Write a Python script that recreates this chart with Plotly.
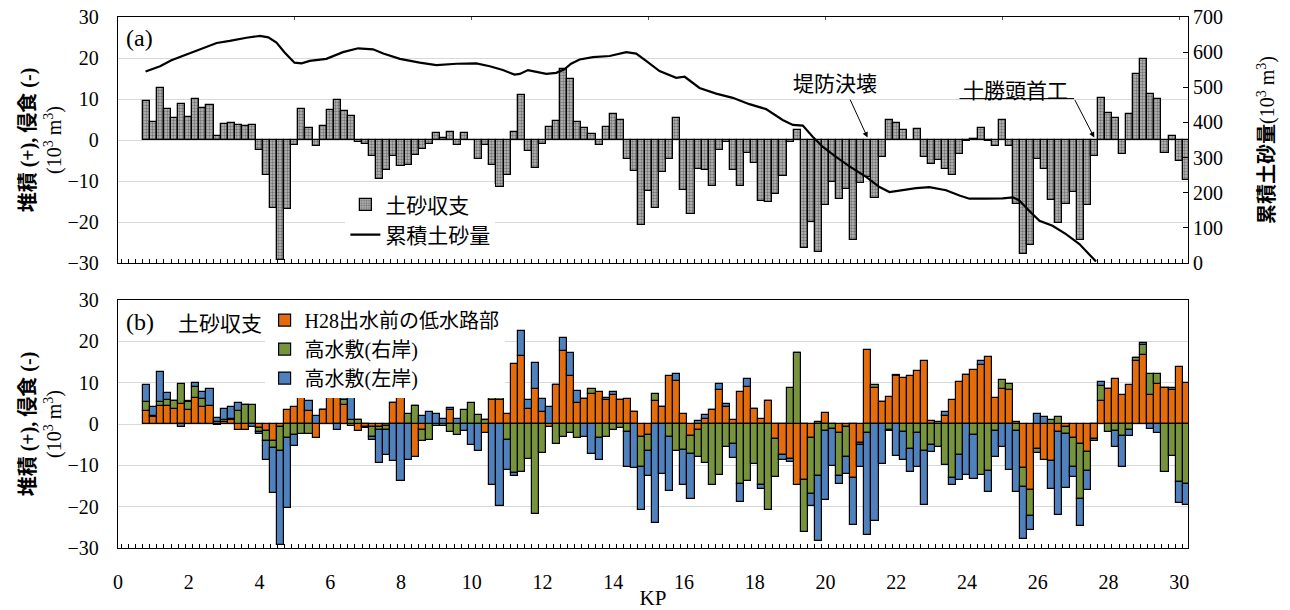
import plotly.graph_objects as go

# ---------------- data ----------------
kp = [round(0.8 + 0.2 * i, 1) for i in range(148)]

balance = [9.5, 4.4, 12.8, 7.6, 5.3, 8.9, 5.6, 10.0, 7.8, 8.5,
           1.1, 3.8, 4.1, 3.6, 3.3, 3.7, -2.5, -8.5, -16.7, -29.3,
           -16.9, -1.2, 7.6, 3.0, -1.5, 3.3, 7.3, 9.7, 7.1, 5.9,
           -0.6, -1.0, -3.9, -9.4, -7.4, -3.9, -6.3, -6.1, -3.7, -2.1,
           -1.0, 1.8, 0.6, 1.9, -1.2, 1.7, 0.1, -4.6, -1.1, -6.2,
           -11.4, -8.6, 2.0, 10.9, -2.8, -6.8, -0.9, 3.2, 4.6, 17.4,
           15.0, 4.4, 3.0, 1.4, -1.1, 3.2, 6.3, 5.0, -4.6, -7.6,
           -20.7, -12.5, -16.6, -7.8, -4.6, 5.4, -12.3, -18.0, -7.0, -7.3,
           -11.1, -2.4, -0.5, -7.2, -11.1, -3.1, -5.5, -14.8, -15.1, -13.1,
           -8.7, -0.5, 2.5, -26.3, -19.9, -27.4, -15.9, -10.2, -14.3, -11.9,
           -24.4, -10.4, -8.9, -14.1, -4.1, 4.9, 4.2, 2.4, 0.0, 2.6,
           -4.2, -5.9, -4.9, -7.0, -8.6, -3.5, -0.3, 0.2, 3.0, -0.2,
           -1.5, 5.0, -1.5, -15.7, -27.9, -25.7, -4.6, -7.0, -14.6, -20.2,
           -15.7, -12.8, -24.4, -15.8, -4.0, 10.3, 6.7, 5.4, -3.3, 6.4,
           16.0, 19.7, 11.1, 10.0, -3.1, 1.0, -5.2, -9.8]

cum_kp = [0.78, 1.19, 1.51, 1.89, 2.32, 2.79, 3.16, 3.63, 4.01, 4.25,
          4.48, 4.71, 4.99, 5.19, 5.42, 5.89, 6.36, 6.79, 7.21, 7.5,
          7.97, 8.53, 9.0, 9.57, 10.13, 10.51, 10.88, 11.21, 11.36, 11.59,
          11.83, 12.11, 12.39, 12.62, 12.81, 13.05, 13.43, 13.9, 14.37, 14.65,
          14.93, 15.31, 15.78, 16.02, 16.44, 16.91, 17.38, 17.85, 18.32, 18.79,
          19.08, 19.36, 19.64, 19.92, 20.3, 20.68, 21.15, 21.53, 21.81, 22.18,
          22.56, 22.94, 23.41, 23.79, 24.07, 24.54, 25.01, 25.3, 25.48, 25.76,
          26.05, 26.42, 26.8, 27.18, 27.46, 27.65]
cum_val = [545, 560, 577, 591, 608, 626, 632, 641, 646, 642,
           627, 599, 570, 568, 575, 581, 600, 611, 608, 596,
           581, 570, 563, 567, 568, 560, 549, 536, 538, 549,
           544, 538, 541, 551, 567, 579, 586, 589, 600, 596,
           575, 546, 527, 530, 498, 482, 470, 452, 438, 407,
           393, 391, 359, 331, 302, 275, 245, 216, 202, 207,
           213, 216, 207, 192, 183, 183, 184, 187, 178, 149,
           120, 106, 82, 54, 25, 4]

low_channel = [3.1, 1.7, 4.4, 4.4, 3.6, 4.8, 3.4, 6.2, 4.0, 4.4,
               -0.3, 0.4, 1.0, -1.4, -1.5, 0.0, -1.0, -1.8, -4.0, -0.8,
               3.5, 4.0, 10.1, 3.1, -3.5, 3.4, 7.1, 11.1, 4.7, -0.6,
               -1.6, -0.8, -0.8, -0.8, -0.5, 5.0, 6.7, 0.0, -8.1, -1.4,
               0.0, 0.0, 0.0, 3.5, 0.0, 0.0, 0.0, 0.0, -2.2, 5.8,
               5.8, 2.4, 14.4, 16.5, 3.6, 8.5, 2.8, -0.8, 9.4, 17.6,
               11.5, 5.2, 6.1, 7.3, 7.7, 5.9, 6.9, 5.9, 6.0, 2.9,
               -3.2, -2.6, 5.5, 4.2, 11.6, 10.5, 2.5, -3.0, -1.4, 1.3,
               3.3, 8.3, 4.0, 1.0, 7.7, 9.0, 3.6, 1.1, 5.5, -3.6,
               -7.4, -8.5, -14.7, -13.6, -3.4, 0.6, 2.7, 0.0, -2.3, -0.8,
               -13.1, -4.6, 17.8, 8.7, 5.3, 6.5, 11.7, 11.1, 11.7, 12.9,
               15.2, 0.8, 0.0, 1.9, 5.9, 10.2, 11.8, 13.1, 14.2, 16.2,
               6.3, 8.4, 8.2, 0.6, -10.6, -16.0, -6.0, -8.8, -9.0, -2.0,
               -0.7, -3.4, -4.8, -6.8, -3.6, 5.5, 8.5, 11.0, 6.9, 9.5,
               15.2, 16.6, 7.1, 9.7, 8.6, 8.3, 13.7, 9.8]

floodplain_right = [2.2, 0.3, 1.0, 1.5, 1.9, 4.8, 1.9, 2.7, 2.1, 0.0,
                    0.6, 0.5, 0.3, 3.1, 4.7, 4.5, -1.0, -2.4, -1.9, -5.8,
                    -3.4, -2.6, -2.4, -2.4, 0.0, 0.0, 0.2, 0.0, 1.0, 1.0,
                    1.0, -0.2, -2.4, -0.6, -1.0, 0.0, 0.6, 2.5, 4.3, -2.6,
                    -3.8, -0.4, -0.6, -2.0, -2.6, 3.3, 5.2, 2.1, 1.0, 2.7,
                    2.4, -3.8, -11.9, -11.7, -8.5, -21.7, -6.9, 0.0, -4.8, -3.2,
                    -2.2, -3.4, 0.0, 1.1, -3.3, -3.1, -1.5, -0.9, -2.0, 0.0,
                    -7.3, -4.0, 1.8, 0.0, -3.2, -6.6, -6.2, -4.2, -6.5, -9.4,
                    -14.7, -12.3, -5.6, -4.8, -14.5, -13.9, -9.6, -14.8, -20.7, -9.3,
                    0.0, 8.7, 17.2, -12.6, -13.5, -12.5, -1.6, -1.1, -10.3, -7.3,
                    0.0, -0.6, -2.2, 0.7, 0.0, -1.4, 0.2, -2.0, -6.0, -2.2,
                    -6.5, -5.0, -5.6, -10.0, -13.1, -7.4, 0.0, -2.6, -12.3, -11.3,
                    -1.8, 2.3, 1.5, -1.6, -4.6, -6.3, -1.0, 0.0, 1.0, 1.6,
                    -1.7, -7.0, -13.3, -4.5, 0.0, 3.6, -1.9, -1.6, -2.8, -1.4,
                    0.8, 2.4, 5.1, 2.4, -11.7, -7.7, -14.1, -14.4]

floodplain_left = [4.2, 2.2, 7.3, 1.5, 0.0, -0.7, 0.3, 1.0, 1.6, 4.1,
                   0.8, 2.7, 2.7, 1.9, 0.0, -0.8, -0.5, -4.4, -10.9, -22.7,
                   -16.9, -2.8, 0.0, 2.4, 2.0, 0.0, 0.0, -1.4, 1.4, 5.5,
                   0.0, 0.0, -0.7, -8.0, -6.1, -8.9, -13.7, -8.6, 0.0, 1.9,
                   2.9, 2.3, 1.3, 0.4, 1.3, -1.6, -5.2, -6.6, 0.0, -14.8,
                   -19.9, -7.4, -0.8, 5.9, 2.1, 6.3, 3.2, 4.1, 0.0, 3.1,
                   5.6, 2.7, -3.2, -7.3, -5.5, 0.4, 0.9, 0.0, -8.5, -10.6,
                   -10.2, -5.9, -24.0, -12.0, -12.9, 1.5, -8.6, -10.9, 0.8, 0.8,
                   0.0, 1.4, 0.9, -3.5, -4.4, 1.9, 0.0, -1.0, 0.0, 0.0,
                   -1.4, -0.8, 0.0, 0.0, -3.0, -15.7, -16.9, -9.1, -1.8, -4.0,
                   -11.3, -5.2, -24.6, -23.5, -9.6, -0.4, -7.7, -6.8, -5.6, -8.2,
                   -13.1, -1.8, 0.5, 1.0, -1.6, -6.2, -12.3, -10.6, 1.0, -5.2,
                   -6.2, -5.6, -11.1, -14.8, -12.7, -3.4, 2.4, 1.6, -6.7, -19.9,
                   -13.2, -2.5, -6.5, -4.6, -0.5, 1.0, 0.0, -4.0, -7.6, -1.6,
                   0.0, 0.6, -1.2, -2.2, 0.0, 0.4, -5.0, -5.2]

# ---------------- styling ----------------
SERIF = "Liberation Serif, Noto Sans CJK JP"
JP = "Noto Sans CJK JP"
ORANGE = "#E46C0A"
GREEN = "#77933C"
BLUE = "#4F81BD"

fig = go.Figure()

fig.add_trace(go.Bar(
    x=kp, y=balance, width=0.2, name="土砂収支", xaxis="x", yaxis="y",
    legend="legend", legendgroup="a1",
    marker=dict(color="#a8a8a8",
                pattern=dict(shape=".", fgcolor="#2e2e2e", bgcolor="#bdbdbd",
                             size=3, solidity=0.5),
                line=dict(color="black", width=1.3)),
))
fig.add_trace(go.Scatter(
    x=cum_kp, y=cum_val, mode="lines", name="累積土砂量", xaxis="x", yaxis="y2",
    legend="legend", legendgroup="a2",
    line=dict(color="black", width=2.2),
))
# empty helper trace so the top tick axis of panel (a) is drawn
fig.add_trace(go.Scatter(x=[], y=[], xaxis="x3", yaxis="y", showlegend=False,
                         hoverinfo="skip"))

for name, vals, col in [("H28出水前の低水路部", low_channel, ORANGE),
                        ("高水敷(右岸)", floodplain_right, GREEN),
                        ("高水敷(左岸)", floodplain_left, BLUE)]:
    fig.add_trace(go.Bar(
        x=kp, y=vals, width=0.2, name=name, xaxis="x2", yaxis="y3",
        legend="legend2", marker=dict(color=col, line=dict(color="black", width=1.2)),
    ))

top_dom = [0.5367, 1.0]
bot_dom = [0.0, 0.467]

xcommon = dict(range=[0, 30.25], dtick=2, tick0=0, showgrid=False, zeroline=False,
               showline=True, linecolor="black", linewidth=1.3, mirror=True,
               ticks="", automargin=False,
               minor=dict(ticks="inside", tick0=0.1, dtick=0.2, ticklen=4,
                          tickcolor="black", tickwidth=1, showgrid=False))
ycommon = dict(range=[-30, 30], dtick=10, showgrid=True, gridcolor="#d9d9d9",
               gridwidth=1, zeroline=False, showline=True, linecolor="black",
               linewidth=1.3, mirror=True, ticks="", automargin=False,
               tickfont=dict(family=SERIF, size=20, color="black"),
               ticklabelstandoff=14,
               title=dict(text="<b>堆積 (+), 侵食 (-)</b><br>(10<sup>3</sup> m<sup>3</sup>)",
                          font=dict(family=SERIF, size=20, color="black"), standoff=0))

fig.update_layout(
    width=1290, height=610,
    margin=dict(l=118, r=102, t=17, b=62, autoexpand=False),
    plot_bgcolor="white", paper_bgcolor="white",
    barmode="relative", bargap=0,
    font=dict(family=SERIF, color="black"),
    xaxis=dict(domain=[0, 1], anchor="y", showticklabels=False, **xcommon),
    xaxis3=dict(overlaying="x", side="top", anchor="y", range=[0, 30.25], dtick=5,
                tick0=0, ticks="inside", ticklen=3, tickcolor="#555",
                showticklabels=False, showgrid=False, zeroline=False,
                showline=False, automargin=False),
    yaxis=dict(domain=top_dom, anchor="x", **ycommon),
    yaxis2=dict(overlaying="y", side="right", anchor="x", range=[0, 700], dtick=100,
                showgrid=False, zeroline=False, showline=False, automargin=False,
                ticks="inside", ticklen=5, tickcolor="black",
                tickfont=dict(family=SERIF, size=20, color="black"),
                ticklabelstandoff=4,
                title=dict(text="<b>累積土砂量</b>(10<sup>3</sup> m<sup>3</sup>)",
                           font=dict(family=SERIF, size=20, color="black"), standoff=38)),
    xaxis2=dict(domain=[0, 1], anchor="y3", showticklabels=True,
                tickfont=dict(family=SERIF, size=20, color="black"),
                ticklabelstandoff=16,
                title=dict(text="KP", font=dict(family=SERIF, size=21, color="black"),
                           standoff=2),
                **xcommon),
    yaxis3=dict(domain=bot_dom, anchor="x2", **ycommon),
    legend=dict(x=0.2125, y=0.685, xanchor="left", yanchor="top", bgcolor="white",
                font=dict(family=JP, size=21, color="black"), tracegroupgap=5,
                itemwidth=30, traceorder="normal"),
    legend2=dict(x=0.137, y=0.466, xanchor="left", yanchor="top", bgcolor="white",
                 font=dict(family=SERIF, size=20, color="black"),
                 traceorder="normal", tracegroupgap=0),
    showlegend=True,
)

ann_font = dict(family=JP, size=21, color="black")
fig.add_annotation(text="(a)", xref="paper", yref="paper", x=0.006, y=0.960,
                   xanchor="left", yanchor="middle", showarrow=False,
                   font=dict(family=SERIF, size=24, color="black"))
fig.add_annotation(text="(b)", xref="paper", yref="paper", x=0.006, y=0.4256,
                   xanchor="left", yanchor="middle", showarrow=False,
                   font=dict(family=SERIF, size=24, color="black"))
fig.add_annotation(text="土砂収支", xref="paper", yref="paper", x=0.054, y=0.4256,
                   xanchor="left", yanchor="middle", showarrow=False, font=ann_font)

# 堤防決壊
fig.add_annotation(text="堤防決壊", xref="x", yref="y", x=20.28, y=14.1,
                   showarrow=False, font=ann_font)
fig.add_annotation(text="", xref="x", yref="y", x=21.19, y=0.6,
                   axref="x", ayref="y", ax=20.68, ay=10.2,
                   showarrow=True, arrowhead=2, arrowsize=1.1, arrowwidth=1,
                   arrowcolor="black")
# 十勝頭首工
fig.add_annotation(text="十勝頭首工", xref="x", yref="y", x=25.37, y=12.4,
                   showarrow=False, font=ann_font)
fig.add_shape(type="line", xref="x", yref="y", x0=23.79, y0=10.1, x1=27.03, y1=10.1,
              line=dict(color="black", width=1))
fig.add_annotation(text="", xref="x", yref="y", x=27.6, y=0.6,
                   axref="x", ayref="y", ax=27.03, ay=10.1,
                   showarrow=True, arrowhead=2, arrowsize=1.1, arrowwidth=1,
                   arrowcolor="black")

fig.write_html("out.html", config={"displayModeBar": False},
               post_script="document.body.style.margin='0';")
